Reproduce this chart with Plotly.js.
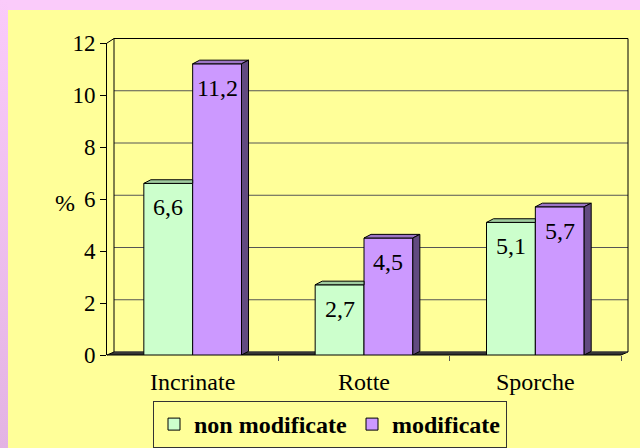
<!DOCTYPE html>
<html><head><meta charset="utf-8">
<script src="https://cdn.plot.ly/plotly-3.0.1.min.js"></script>
<style>
html,body{margin:0;padding:0;background:#FFFF99}
#wrap{position:relative;width:640px;height:448px}
#chart{width:640px;height:448px}
.pink{position:absolute;background:#FACBFA;pointer-events:none}
#ptop{left:0;top:0;width:640px;height:10px}
#pleft{left:0;top:0;width:8px;height:448px;background:linear-gradient(#FACBFA,#E3B3E3)}
</style>
</head><body><div id="wrap"><div id="chart"></div><div class="pink" id="ptop"></div><div class="pink" id="pleft"></div></div>
<script>
const categories = ['Incrinate', 'Rotte', 'Sporche'];
const nonModificate = [6.6, 2.7, 5.1];
const modificate = [11.2, 4.5, 5.7];
const seriesNames = ['non modificate', 'modificate'];
const yTicks = [0, 2, 4, 6, 8, 10, 12];

const FONT = 'Times New Roman';
const YELLOW = '#FFFF99';
const frontColors = ['#CCFFCC', '#CC99FF'];
const topColors = ['#9fcc9f', '#9c74c6'];
const sideColors = ['#6f8f6f', '#624a80'];
const BARGAP = 0.43;
const DX = 0.041, DY = 0.14;      // bar depth (front-plane units)
const FX = -0.041, FY = -0.115;   // front edge of floor (back-plane units)

const xIdx = categories.map((c, i) => i);
const w = (1 - BARGAP) / 2;
function fmt(v) { return v.toFixed(1).replace('.', ','); }

function poly(xs, ys, fill, axes) {
  return { type: 'scatter', mode: 'lines', x: xs, y: ys, fill: 'toself', fillcolor: fill,
    line: { color: '#000', width: 1 }, xaxis: axes[0], yaxis: axes[1], showlegend: false, hoverinfo: 'skip' };
}
function line(xs, ys, color, axes) {
  return { type: 'scatter', mode: 'lines', x: xs, y: ys, line: { color: color, width: 1 },
    xaxis: axes[0], yaxis: axes[1], showlegend: false, hoverinfo: 'skip' };
}

const traces = [];
const BACK = ['x', 'y'], FRONT = ['x2', 'y2'];
// back wall: floor, gridlines, border
traces.push(poly([-0.5, 2.5, 2.5 + FX, -0.5 + FX, -0.5], [0, 0, FY, FY, 0], '#333', BACK));
yTicks.forEach(t => traces.push(line([-0.5, 2.5], [t, t], '#555', BACK)));
traces.push(line([-0.5, -0.5, 2.5, 2.5], [0, 12, 12, 0], '#000', BACK));
traces.push(line([-0.5 + FX, -0.5], [12 + FY - 0.06, 12], '#000', BACK));

// bars (front plane)
[nonModificate, modificate].forEach((vals, s) => {
  traces.push({ type: 'bar', x: xIdx, y: vals, name: seriesNames[s], xaxis: 'x2', yaxis: 'y2',
    marker: { color: frontColors[s], line: { color: '#000', width: 1 } }, hoverinfo: 'skip' });
});
// 3D faces
[nonModificate, modificate].forEach((vals, s) => {
  vals.forEach((v, i) => {
    const c = i + (s === 0 ? -w/2 : w/2);
    const x0 = c - w/2, x1 = c + w/2;
    if (s === 0) {
      traces.push(poly([x0, x0 + DX, x1, x1, x0], [v, v + DY, v + DY, v, v], topColors[s], FRONT));
    } else {
      traces.push(poly([x0, x0 + DX, x1 + DX, x1, x0], [v, v + DY, v + DY, v, v], topColors[s], FRONT));
      traces.push(poly([x1, x1, x1 + DX, x1 + DX, x1], [0, v, v + DY, DY, 0], sideColors[s], FRONT));
    }
  });
});

const annotations = [];
[nonModificate, modificate].forEach((vals, s) => {
  vals.forEach((v, i) => {
    const c = i + (s === 0 ? -w/2 : w/2);
    annotations.push({ xref: 'x2', yref: 'y2', x: c, y: v, text: fmt(v), showarrow: false,
      yshift: -24, font: { family: FONT, size: 24, color: '#000' } });
  });
});
annotations.push({ xref: 'paper', yref: 'paper', x: 53/640, y: (448-203)/448, text: '%', showarrow: false,
  font: { family: FONT, size: 24, color: '#000' } });

const layout = {
  width: 640, height: 448,
  margin: { l: 0, r: 0, t: 0, b: 0 },
  paper_bgcolor: YELLOW,
  plot_bgcolor: 'rgba(0,0,0,0)',
  barmode: 'group', bargap: BARGAP, bargroupgap: 0,
  legend: {
    orientation: 'h', x: 330/640, xanchor: 'center', y: 0, yanchor: 'bottom',
    bgcolor: YELLOW, bordercolor: '#333', borderwidth: 1,
    font: { family: FONT, size: 24, color: '#000', weight: 'bold' }
  },
  xaxis: { domain: [96.87/640, 636.57/640], range: [-0.6, 2.55], anchor: 'y', visible: false },
  yaxis: { domain: [(448-359.84)/448, (448-30.66)/448], range: [-0.3, 12.3], anchor: 'x', visible: false },
  xaxis2: { domain: [107/640, 621/640], range: [-0.5, 2.5], anchor: 'y2',
    tickvals: xIdx, ticktext: categories, ticks: '',
    minor: { tickvals: [0.5, 1.5, 2.5], ticks: 'outside', ticklen: 5, tickcolor: '#555', showgrid: false },
    ticklabelstandoff: 10,
    showgrid: false, zeroline: false, showline: false,
    tickfont: { family: FONT, size: 24, color: '#000' } },
  yaxis2: { domain: [(448-355)/448, (448-43)/448], range: [0, 12], anchor: 'x2',
    tickvals: yTicks, ticks: 'outside', ticklen: 6, tickcolor: '#000',
    showgrid: false, zeroline: false, showline: true, linecolor: '#000', linewidth: 1,
    tickfont: { family: FONT, size: 23, color: '#000' } },
  annotations: annotations
};

Plotly.newPlot('chart', traces, layout, { staticPlot: true, displayModeBar: false });
</script>
</body></html>
